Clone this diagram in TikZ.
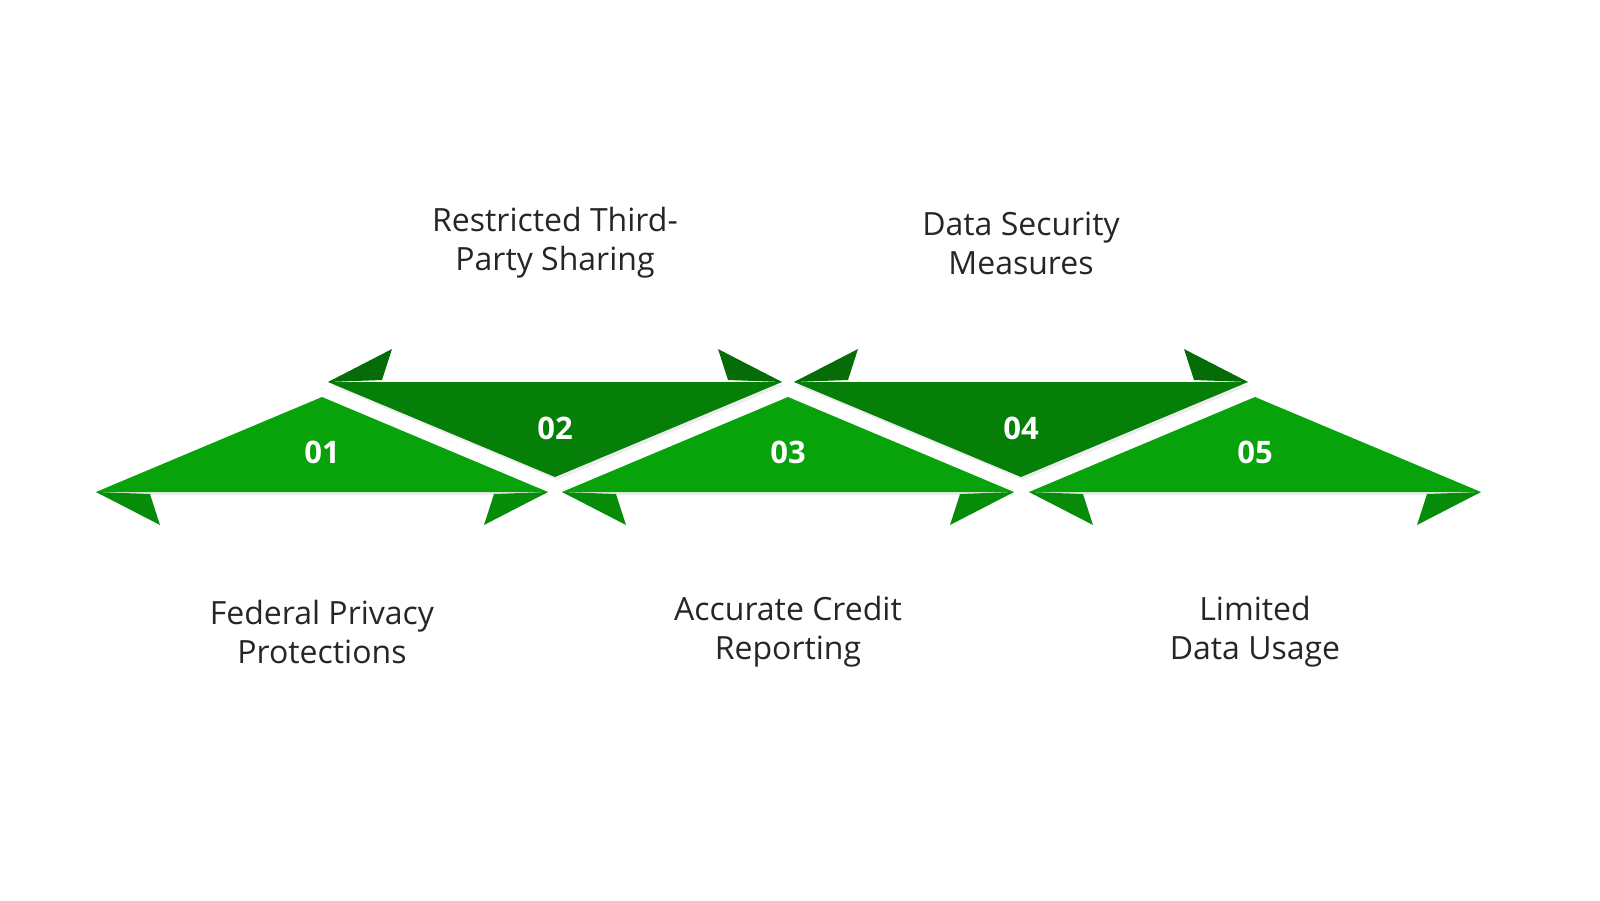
\documentclass[tikz,border=0pt]{standalone}
\usepackage{fontspec}
\setmainfont{Open Sans}
\usetikzlibrary{shadows}
\definecolor{gA}{HTML}{08A20B}
\definecolor{gAd}{HTML}{068C09}
\definecolor{gB}{HTML}{067F09}
\definecolor{gBd}{HTML}{056C07}
\tikzset{
  lbl/.style={align=center,font=\fontsize{32}{39}\selectfont,text=black!85},
  num/.style={font=\fontsize{31}{34}\selectfont\bfseries,text=white},
  shad/.style={drop shadow={shadow xshift=2pt,shadow yshift=-3pt,opacity=0.15}}
}
\begin{document}
\begin{tikzpicture}[x=1pt,y=-1pt]
\useasboundingbox (0,0) rectangle (1600,900);
% up triangles 01,03,05
\foreach \c in {322,788,1255}{
  \fill[gA,shad] (\c-226,492) -- (\c,397) -- (\c+226,492) -- cycle;
  \fill[gAd] (\c-226,492) -- (\c-172,494) -- (\c-162,525) -- cycle;
  \fill[gAd] (\c+226,492) -- (\c+172,494) -- (\c+162,525) -- cycle;
}
% down triangles 02,04
\foreach \c in {555,1021}{
  \fill[gB,shad] (\c-227,382) -- (\c,477) -- (\c+227,382) -- cycle;
  \fill[gBd] (\c-227,382) -- (\c-173,380) -- (\c-163,349) -- cycle;
  \fill[gBd] (\c+227,382) -- (\c+173,380) -- (\c+163,349) -- cycle;
}
\node[num] (n1) at (322,452) {01};
\node[num] (n2) at (555,428) {02};
\node[num] (n3) at (788,452) {03};
\node[num] (n4) at (1021,428) {04};
\node[num] (n5) at (1255,452) {05};
\node[lbl] (l1) at (322,632) {Federal Privacy\\Protections};
\node[lbl] (l2) at (555,243) {Restricted Third-\\Party Sharing};
\node[lbl] (l3) at (788,632) {Accurate Credit\\Reporting};
\node[lbl] (l4) at (1021,243) {Data Security\\Measures};
\node[lbl] (l5) at (1255,632) {Limited\\Data Usage};
\end{tikzpicture}
\end{document}
